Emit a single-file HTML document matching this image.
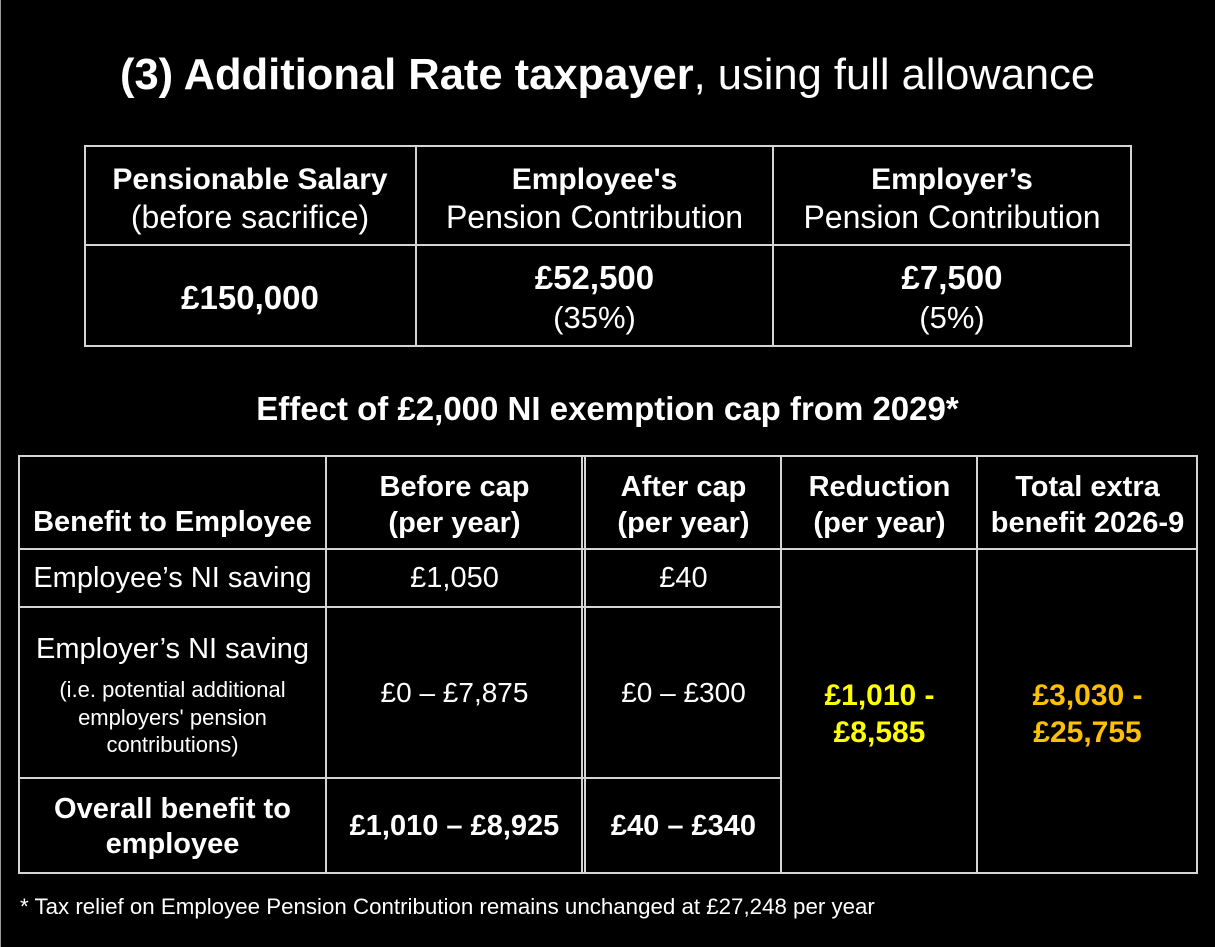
<!DOCTYPE html>
<html>
<head>
<meta charset="utf-8">
<style>
html,body{margin:0;padding:0;background:#000;}
body{width:1215px;height:947px;position:relative;overflow:hidden;font-family:"Liberation Sans",Arial,sans-serif;color:#fff;}
.h{position:absolute;height:2px;background:#d4d4d4;}
.v{position:absolute;width:2px;background:#d4d4d4;}
.t{position:absolute;text-align:center;white-space:nowrap;}
.b{font-weight:bold;}
</style>
</head>
<body>
<div style="position:absolute;left:0;top:0;width:1px;height:947px;background:#9a9a9a;"></div>

<!-- Title -->
<div class="t" style="left:0;width:1215px;top:49px;line-height:52px;font-size:43.5px;"><span class="b">(3) Additional Rate taxpayer</span>, using full allowance</div>

<!-- Upper table lines -->
<div class="h" style="left:84px;top:145px;width:1048px;"></div>
<div class="h" style="left:84px;top:244px;width:1048px;"></div>
<div class="h" style="left:84px;top:345px;width:1048px;"></div>
<div class="v" style="left:84px;top:145px;height:202px;"></div>
<div class="v" style="left:415px;top:145px;height:202px;"></div>
<div class="v" style="left:772px;top:145px;height:202px;"></div>
<div class="v" style="left:1130px;top:145px;height:202px;"></div>

<!-- Upper table text -->
<div class="t b" style="left:85px;width:330px;top:161px;line-height:38px;font-size:30px;">Pensionable Salary</div>
<div class="t" style="left:85px;width:330px;top:198px;line-height:38px;font-size:32px;">(before sacrifice)</div>
<div class="t b" style="left:416px;width:357px;top:161px;line-height:38px;font-size:30px;">Employee's</div>
<div class="t" style="left:416px;width:357px;top:198px;line-height:38px;font-size:32px;">Pension Contribution</div>
<div class="t b" style="left:773px;width:358px;top:161px;line-height:38px;font-size:30px;">Employer’s</div>
<div class="t" style="left:773px;width:358px;top:198px;line-height:38px;font-size:32px;">Pension Contribution</div>

<div class="t b" style="left:85px;width:330px;top:279px;line-height:38px;font-size:33px;">£150,000</div>
<div class="t b" style="left:416px;width:357px;top:259px;line-height:38px;font-size:33px;">£52,500</div>
<div class="t" style="left:416px;width:357px;top:299px;line-height:38px;font-size:31px;">(35%)</div>
<div class="t b" style="left:773px;width:358px;top:259px;line-height:38px;font-size:33px;">£7,500</div>
<div class="t" style="left:773px;width:358px;top:299px;line-height:38px;font-size:31px;">(5%)</div>

<!-- Subtitle -->
<div class="t b" style="left:0;width:1215px;top:389px;line-height:40px;font-size:33px;">Effect of £2,000 NI exemption cap from 2029*</div>

<!-- Lower table lines -->
<div class="h" style="left:18px;top:455px;width:1180px;"></div>
<div class="h" style="left:18px;top:548px;width:1180px;"></div>
<div class="h" style="left:18px;top:606px;width:764px;"></div>
<div class="h" style="left:18px;top:777px;width:764px;"></div>
<div class="h" style="left:18px;top:872px;width:1180px;"></div>
<div class="v" style="left:18px;top:455px;height:419px;"></div>
<div class="v" style="left:325px;top:455px;height:419px;"></div>
<div class="v" style="left:581px;top:455px;height:419px;"></div>
<div class="v" style="left:584px;top:455px;height:419px;"></div>
<div class="v" style="left:780px;top:455px;height:419px;"></div>
<div class="v" style="left:976px;top:455px;height:419px;"></div>
<div class="v" style="left:1196px;top:455px;height:419px;"></div>

<!-- Lower header -->
<div class="t b" style="left:19px;width:307px;top:504px;line-height:36px;font-size:29px;">Benefit to Employee</div>
<div class="t b" style="left:327px;width:255px;top:469px;line-height:36px;font-size:29px;">Before cap</div>
<div class="t b" style="left:327px;width:255px;top:505px;line-height:36px;font-size:29px;">(per year)</div>
<div class="t b" style="left:586px;width:195px;top:469px;line-height:36px;font-size:29px;">After cap</div>
<div class="t b" style="left:586px;width:195px;top:505px;line-height:36px;font-size:29px;">(per year)</div>
<div class="t b" style="left:782px;width:195px;top:469px;line-height:36px;font-size:29px;">Reduction</div>
<div class="t b" style="left:782px;width:195px;top:505px;line-height:36px;font-size:29px;">(per year)</div>
<div class="t b" style="left:978px;width:219px;top:469px;line-height:36px;font-size:29px;">Total extra</div>
<div class="t b" style="left:978px;width:219px;top:505px;line-height:36px;font-size:29px;">benefit 2026-9</div>

<!-- Row 1 -->
<div class="t" style="left:19px;width:307px;top:560px;line-height:36px;font-size:29px;">Employee’s NI saving</div>
<div class="t" style="left:327px;width:255px;top:560px;line-height:36px;font-size:29px;">£1,050</div>
<div class="t" style="left:586px;width:195px;top:560px;line-height:36px;font-size:29px;">£40</div>

<!-- Row 2 -->
<div class="t" style="left:19px;width:307px;top:631px;line-height:36px;font-size:29px;">Employer’s NI saving</div>
<div class="t" style="left:19px;width:307px;top:676px;line-height:27.5px;font-size:22px;">(i.e. potential additional<br>employers' pension<br>contributions)</div>
<div class="t" style="left:327px;width:255px;top:675px;line-height:36px;font-size:28px;">£0 – £7,875</div>
<div class="t" style="left:586px;width:195px;top:675px;line-height:36px;font-size:28px;">£0 – £300</div>

<!-- Row 3 -->
<div class="t b" style="left:19px;width:307px;top:792px;line-height:35px;font-size:29px;">Overall benefit to<br>employee</div>
<div class="t b" style="left:327px;width:255px;top:808px;line-height:36px;font-size:29px;">£1,010 – £8,925</div>
<div class="t b" style="left:586px;width:195px;top:808px;line-height:36px;font-size:29px;">£40 – £340</div>

<!-- Merged cells -->
<div class="t b" style="left:782px;width:195px;top:677px;line-height:37px;font-size:30px;color:#ffff00;">£1,010 -<br>£8,585</div>
<div class="t b" style="left:978px;width:219px;top:677px;line-height:37px;font-size:30px;color:#ffc000;">£3,030 -<br>£25,755</div>

<!-- Footnote -->
<div class="t" style="left:20px;top:893px;line-height:28px;font-size:22.3px;text-align:left;">* Tax relief on Employee Pension Contribution remains unchanged at £27,248 per year</div>
</body>
</html>
